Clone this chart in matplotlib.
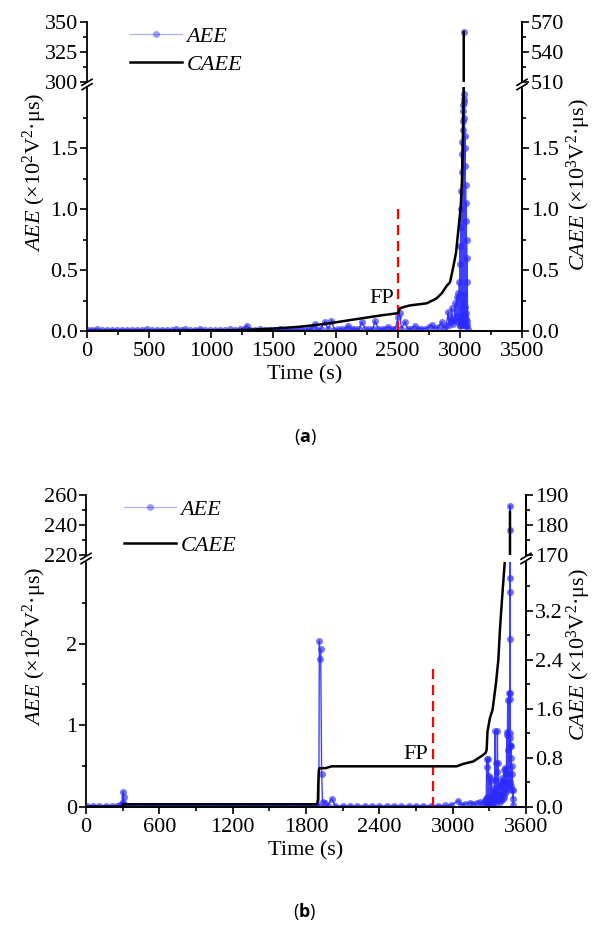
import matplotlib
matplotlib.use('Agg')
import matplotlib.pyplot as plt
from matplotlib.lines import Line2D
from matplotlib.ticker import FixedLocator, FormatStrFormatter

plt.rcParams['font.family'] = ['Liberation Serif', 'DejaVu Serif']
plt.rcParams['mathtext.fontset'] = 'custom'
plt.rcParams['mathtext.rm'] = 'Liberation Serif'
plt.rcParams['mathtext.it'] = 'Liberation Serif:italic'
plt.rcParams['mathtext.bf'] = 'Open Sans:bold'

FS = 16

# ---------------- panel (a) data ----------------
base_t_a = [5, 40, 78, 120, 160, 200, 240, 280, 320, 360, 400, 440, 480, 520, 560, 600,
            640, 680, 720, 760, 790, 830, 870, 910, 950, 990, 1030, 1070, 1110, 1150, 1190,
            1230, 1260, 1285, 1310, 1350, 1390, 1430, 1470, 1510, 1550, 1590, 1630, 1670,
            1710, 1750, 1790]
base_v_a = [0.010, 0.012, 0.018, 0.008, 0.010, 0.012, 0.009, 0.011, 0.010, 0.008,
            0.012, 0.010, 0.013, 0.009, 0.011, 0.012, 0.010, 0.009, 0.013, 0.011,
            0.016, 0.010, 0.012, 0.018, 0.009, 0.011, 0.010, 0.012, 0.009, 0.013,
            0.011, 0.014, 0.018, 0.045, 0.012, 0.010, 0.013, 0.011, 0.012, 0.010,
            0.014, 0.012, 0.011, 0.013, 0.015, 0.012, 0.014]
mid_t_a = [1810, 1833, 1850, 1880, 1913, 1940, 1967, 1990, 2020, 2050,
           2080, 2102, 2130, 2160, 2190, 2209, 2240, 2270, 2300, 2317,
           2345, 2370, 2400, 2424, 2450, 2480, 2504, 2515, 2530, 2558,
           2580, 2610, 2638, 2660, 2690, 2720, 2750, 2773, 2800, 2830,
           2853, 2870, 2890, 2907, 2915, 2920, 2928, 2934, 2945, 2952,
           2961, 2968, 2974, 2980, 2987, 2993]
mid_v_a = [0.015, 0.057, 0.012, 0.015, 0.076, 0.014, 0.084, 0.012, 0.015, 0.013,
           0.016, 0.043, 0.014, 0.015, 0.013, 0.076, 0.016, 0.014, 0.015, 0.084,
           0.013, 0.015, 0.016, 0.035, 0.014, 0.017, 0.117, 0.150, 0.018, 0.076,
           0.016, 0.018, 0.040, 0.017, 0.020, 0.019, 0.030, 0.049, 0.022, 0.030,
           0.076, 0.025, 0.040, 0.158, 0.050, 0.104, 0.070, 0.186, 0.060, 0.090,
           0.227, 0.080, 0.280, 0.120, 0.310, 0.100]
dense_t_a = [2996, 2998, 3000, 3002, 3003, 3005, 3006, 3008, 3009, 3011,
             3012, 3014, 3015, 3017, 3018, 3020, 3021, 3022, 3023, 3024,
             3025, 3026, 3027, 3028, 3029, 3030, 3031, 3032, 3033, 3033,
             3034, 3035, 3036, 3037, 3038, 3039, 3040, 3041, 3042, 3043,
             3044, 3046, 3047, 3048, 3050, 3051, 3052, 3054, 3055, 3056,
             3058, 3060, 3062]
dense_v_a = [0.40, 0.05, 0.55, 0.08, 0.70, 0.04, 0.85, 0.10, 1.00, 0.06,
             1.15, 0.12, 1.30, 0.05, 1.45, 0.20, 1.55, 0.08, 1.65, 0.15,
             1.72, 0.06, 1.80, 0.25, 1.85, 0.10, 1.90, 0.05, 1.94, 342.0,
             0.30, 1.88, 0.08, 1.75, 0.12, 1.60, 0.05, 1.50, 0.20, 1.35,
             0.06, 1.20, 0.10, 1.05, 0.04, 0.90, 0.15, 0.75, 0.05, 0.60,
             0.08, 0.40, 0.02]
aee_t_a = base_t_a + mid_t_a + dense_t_a
aee_v_a = base_v_a + mid_v_a + dense_v_a

caee_t_a = [0, 300, 600, 900, 1150, 1300, 1500, 1713, 1850, 1982, 2120, 2250, 2380, 2495,
            2505, 2518, 2560, 2600, 2680, 2733, 2788, 2813, 2855, 2894, 2921, 2948, 2969,
            2988, 3007, 3017, 3023, 3028, 3031, 3031, 3031]
caee_v_a = [0, 0.001, 0.002, 0.004, 0.006, 0.010, 0.020, 0.035, 0.050, 0.068, 0.090, 0.110,
            0.130, 0.145, 0.150, 0.186, 0.200, 0.210, 0.220, 0.227, 0.254, 0.268, 0.310, 0.370,
            0.400, 0.530, 0.640, 0.830, 1.020, 1.240, 1.510, 1.780, 2.06, 509.0, 560.0]

# ---------------- panel (b) data ----------------
base_t_b = [10, 60, 110, 160, 210, 250, 280, 292, 300, 305,
            308, 312, 330, 380, 440, 500, 560, 620, 680, 740,
            800, 860, 920, 980, 1040, 1100, 1160, 1220, 1280, 1340,
            1400, 1460, 1520, 1580, 1640, 1700, 1760, 1820, 1880]
base_v_b = [0.008, 0.010, 0.009, 0.011, 0.008, 0.010, 0.015, 0.030, 0.060, 0.185,
            0.120, 0.015, 0.010, 0.008, 0.010, 0.009, 0.011, 0.008, 0.010, 0.009,
            0.011, 0.008, 0.010, 0.009, 0.008, 0.010, 0.011, 0.009, 0.008, 0.010,
            0.009, 0.011, 0.008, 0.010, 0.009, 0.008, 0.010, 0.011, 0.009]
mid_t_b = [1905, 1909, 1915, 1920, 1928, 1935, 1957, 1980, 2010, 2040,
           2100, 2160, 2220, 2280, 2340, 2400, 2460, 2520, 2580, 2640,
           2700, 2760, 2820, 2880, 2940, 2990, 3047, 3070, 3100, 3142,
           3170, 3200, 3224, 3250, 3265]
mid_v_b = [0.010, 2.03, 1.81, 1.93, 0.40, 0.06, 0.05, 0.010, 0.10, 0.010,
           0.009, 0.010, 0.008, 0.011, 0.009, 0.010, 0.008, 0.011, 0.010, 0.009,
           0.012, 0.010, 0.011, 0.013, 0.015, 0.020, 0.074, 0.025, 0.035, 0.050,
           0.030, 0.045, 0.060, 0.040, 0.080]
dense_t_b = [3270, 3275, 3278, 3280, 3282, 3284, 3288, 3292, 3295, 3298,
             3302, 3305, 3308, 3312, 3316, 3320, 3325, 3330, 3333, 3337,
             3340, 3343, 3346, 3350, 3352, 3355, 3358, 3360, 3363, 3366,
             3370, 3373, 3376, 3380, 3384, 3387, 3391, 3395, 3399, 3402,
             3405, 3409, 3412, 3415, 3418, 3420, 3424, 3428, 3431, 3435,
             3438, 3442, 3445, 3448, 3450, 3452, 3455, 3457, 3460, 3462,
             3465, 3467, 3469, 3469, 3469, 3469, 3469, 3469, 3469, 3469,
             3471, 3473, 3475, 3477, 3480, 3482, 3485, 3488, 3490, 3493,
             3496]
dense_v_b = [0.02, 0.10, 0.585, 0.49, 0.05, 0.12, 0.02, 0.58, 0.08, 0.38,
             0.04, 0.35, 0.10, 0.31, 0.05, 0.12, 0.03, 0.15, 0.23, 0.06,
             0.18, 0.08, 0.93, 0.33, 0.10, 0.54, 0.05, 0.43, 0.15, 0.93,
             0.08, 0.54, 0.12, 0.25, 0.06, 0.24, 0.15, 0.30, 0.08, 0.28,
             0.35, 0.10, 0.30, 0.28, 0.12, 0.45, 0.15, 0.48, 0.20, 0.40,
             0.18, 0.92, 0.25, 0.88, 1.31, 0.30, 0.70, 0.22, 1.40, 0.40,
             0.76, 0.84, 0.74, 1.39, 2.06, 2.63, 2.80, 236.7, 252.9, 1.32,
             0.30, 0.90, 0.25, 0.60, 0.75, 0.20, 0.50, 0.40, 0.10, 0.20,
             0.02]
aee_t_b = base_t_b + mid_t_b + dense_t_b
aee_v_b = base_v_b + mid_v_b + dense_v_b

caee_t_b = [0, 300, 303, 1890, 1898, 1900, 1905, 1912, 1960, 2010, 3033, 3087, 3169, 3238,
            3270, 3278, 3285, 3305, 3327, 3355, 3374, 3387, 3404, 3428, 3469, 3469]
caee_v_b = [0, 0, 0.04, 0.04, 0.12, 0.35, 0.60, 0.63, 0.63, 0.66, 0.66, 0.70, 0.74, 0.83,
            0.88, 0.93, 1.23, 1.45, 1.59, 2.03, 2.41, 2.90, 3.40, 4.05, 170.3, 184.3]

W, H = 592, 927
fig = plt.figure(figsize=(W / 100, H / 100), dpi=100)
BLUE = '#0000ff'


def px_rect(x0, y0, x1, y1):
    return [x0 / W, 1 - y1 / H, (x1 - x0) / W, (y1 - y0) / H]


def fx(x):
    return x / W


def fy(y):
    return 1 - y / H


def style_axis(ax):
    ax.tick_params(axis='both', which='major', direction='out', length=5, width=1.2,
                   labelsize=FS, pad=1.5)
    ax.tick_params(axis='both', which='minor', direction='out', length=3, width=1.2)
    for s in ax.spines.values():
        s.set_linewidth(1.3)


def break_mark(x, y):
    for dy in (-2.2, 2.2):
        fig.add_artist(Line2D([fx(x - 5), fx(x + 5)], [fy(y + dy + 3), fy(y + dy - 3)],
                              color='k', lw=1.2))


def panel(rect_up, rect_lo, t_aee, v_aee, t_cae, v_cae, xcfg, ylo, ylo2, yup, yup2,
          fmt_lo, fp_line, fp_text, leg_xy, leg_space):
    ax_lo = fig.add_axes(px_rect(*rect_lo))
    ax_up = fig.add_axes(px_rect(*rect_up), sharex=ax_lo)
    ax_lo2 = ax_lo.twinx()
    ax_up2 = ax_up.twinx()

    for ax in (ax_lo, ax_up):
        ax.plot(t_aee, v_aee, color=BLUE, lw=1.0, alpha=0.75, zorder=2)
        ax.plot(t_aee, v_aee, ls='none', marker='o', ms=5, mfc='#2a2aff', mec='none',
                alpha=0.65, zorder=3)
    for ax in (ax_lo2, ax_up2):
        ax.plot(t_cae, v_cae, color='black', lw=1.8)

    xmax, xmaj, xmin_ = xcfg
    ax_lo.set_xlim(0, xmax)
    ax_lo.xaxis.set_major_locator(FixedLocator(xmaj))
    ax_lo.xaxis.set_minor_locator(FixedLocator(xmin_))

    for ax, (lim, maj, mnr) in ((ax_lo, ylo), (ax_lo2, ylo2), (ax_up, yup), (ax_up2, yup2)):
        ax.set_ylim(*lim)
        ax.yaxis.set_major_locator(FixedLocator(maj))
        ax.yaxis.set_minor_locator(FixedLocator(mnr))
        style_axis(ax)
    ax_lo.tick_params(axis='x', pad=3)
    ax_lo.yaxis.set_major_formatter(FormatStrFormatter(fmt_lo[0]))
    ax_lo2.yaxis.set_major_formatter(FormatStrFormatter(fmt_lo[1]))
    ax_up.yaxis.set_major_formatter(FormatStrFormatter('%d'))
    ax_up2.yaxis.set_major_formatter(FormatStrFormatter('%d'))

    for ax in (ax_lo, ax_lo2):
        ax.spines['top'].set_visible(False)
    for ax in (ax_up, ax_up2):
        ax.spines['top'].set_visible(False)
        ax.spines['bottom'].set_visible(False)
        ax.tick_params(axis='x', which='both', bottom=False, labelbottom=False)
    ax_lo2.spines['left'].set_visible(False)
    ax_up2.spines['left'].set_visible(False)

    # failure point marker
    ax_lo.plot([fp_line[0], fp_line[0]], [0, fp_line[1]], color='red', lw=1.6,
               ls=(0, (4.5, 2.7)), zorder=4)
    ax_lo.text(fp_text[0], fp_text[1], 'FP', fontsize=FS, ha='center', va='center')

    h1 = Line2D([], [], color='#4a4aff', lw=0.9, alpha=0.45, marker='o', ms=5,
                mfc='#2a2aff', mec='none')
    h2 = Line2D([], [], color='black', lw=1.8)
    ax_up2.legend([h1, h2], ['AEE', 'CAEE'], loc='upper left',
                  bbox_to_anchor=(fx(leg_xy[0]), fy(leg_xy[1])),
                  bbox_transform=fig.transFigure, frameon=False, borderpad=0,
                  borderaxespad=0, handlelength=2.35, handletextpad=0.2,
                  labelspacing=leg_space, numpoints=1,
                  prop={'style': 'italic', 'size': FS})
    return ax_lo


# panel (a)
ax_a = panel((87, 22, 522, 82), (87, 87, 522, 331), aee_t_a, aee_v_a, caee_t_a, caee_v_a,
             (3500, list(range(0, 3501, 500)), list(range(250, 3500, 500))),
             ((0, 2.0), [0, 0.5, 1.0, 1.5], [0.25, 0.75, 1.25, 1.75]),
             ((0, 2.0), [0, 0.5, 1.0, 1.5], [0.25, 0.75, 1.25, 1.75]),
             ((300, 350), [300, 325, 350], [312.5, 337.5]),
             ((510, 570), [510, 540, 570], [525, 555]),
             ('%.1f', '%.1f'), (2500, 1.05), (2370, 0.27), (130, 26.5), 0.32)
break_mark(87, 84.5)
break_mark(522, 84.5)
ax_a.set_xlabel('Time (s)', fontsize=FS, labelpad=3)
fig.text(fx(35), fy(172), r'$\mathit{AEE}$ (×10$^2$V$^2$·μs)', rotation=90, fontsize=FS,
         ha='center', va='center')
fig.text(fx(579), fy(185), r'$\mathit{CAEE}$ (×10$^3$V$^2$·μs)', rotation=90, fontsize=FS,
         ha='center', va='center')
fig.text(fx(305), fy(437), r'($\mathbf{a}$)', fontsize=13, ha='center', va='center',
         family='Open Sans')

# panel (b)
ax_b = panel((86, 495, 526, 555), (86, 562, 526, 806.7), aee_t_b, aee_v_b, caee_t_b, caee_v_b,
             (3600, list(range(0, 3601, 600)), list(range(300, 3600, 600))),
             ((0, 3.0), [0, 1, 2], [0.5, 1.5, 2.5]),
             ((0, 4.0), [0, 0.8, 1.6, 2.4, 3.2], [0.4, 1.2, 2.0, 2.8, 3.6]),
             ((220, 260), [220, 240, 260], [230, 250]),
             ((170, 190), [170, 180, 190], [175, 185]),
             ('%d', '%.1f'), (2840, 1.75), (2700, 0.64), (124, 499.5), 0.68)
break_mark(86, 558.5)
break_mark(526, 558.5)
ax_b.set_xlabel('Time (s)', fontsize=FS, labelpad=3)
fig.text(fx(35), fy(646), r'$\mathit{AEE}$ (×10$^2$V$^2$·μs)', rotation=90, fontsize=FS,
         ha='center', va='center')
fig.text(fx(579), fy(655), r'$\mathit{CAEE}$ (×10$^3$V$^2$·μs)', rotation=90, fontsize=FS,
         ha='center', va='center')
fig.text(fx(305), fy(912), r'($\mathbf{b}$)', fontsize=13, ha='center', va='center',
         family='Open Sans')

fig.savefig('out.png', dpi=100)
